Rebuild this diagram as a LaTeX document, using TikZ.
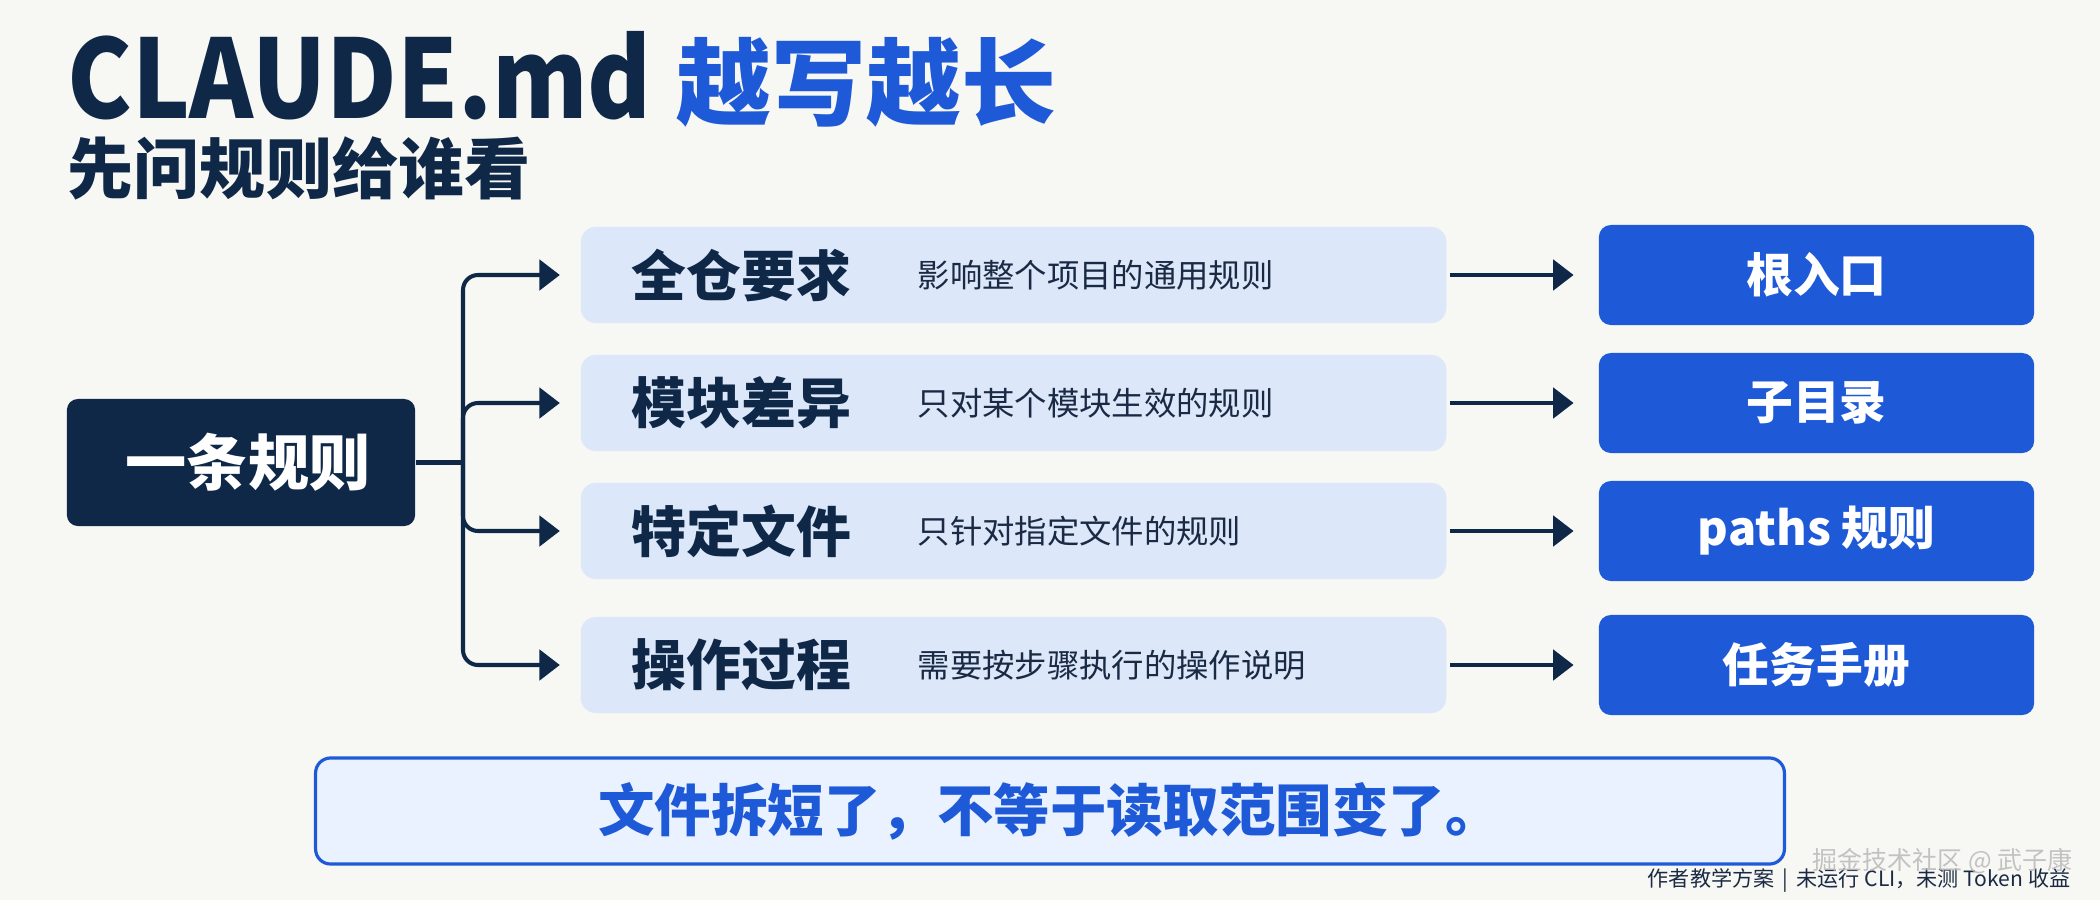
\documentclass[tikz,border=0pt]{standalone}
\usepackage{fontspec}
\setmainfont{Noto Sans CJK SC}
\usetikzlibrary{arrows.meta}
\definecolor{navy}{HTML}{0F2848}
\definecolor{brandblue}{HTML}{1E5AD7}
\definecolor{lightbox}{HTML}{DCE8F9}
\definecolor{notebox}{HTML}{E9F2FE}
\definecolor{bgcol}{HTML}{F7F7F4}
\definecolor{desccol}{HTML}{1B2A44}
\newcommand{\fs}[1]{\fontsize{#1}{#1}\selectfont}
\tikzset{
  rowbox/.style={fill=lightbox, rounded corners=0.15cm, minimum width=8.65cm, minimum height=0.96cm, inner sep=0pt},
  targetbox/.style={fill=brandblue, rounded corners=0.12cm, minimum width=4.35cm, minimum height=1.0cm, inner sep=0pt, text=white, font=\fs{13.3pt}\bfseries},
  rowlabel/.style={anchor=west, inner sep=0pt, text=navy, font=\fs{15.6pt}\bfseries},
  rowdesc/.style={anchor=west, inner sep=0pt, text=desccol, font=\fs{9.2pt}},
  link/.style={draw=navy, line width=1.15pt, -{Triangle[length=5.8pt,width=8.6pt]}},
}
\begin{document}
\begin{tikzpicture}[x=0.01cm, y=-0.01cm]
\fill[bgcol] (0,0) rectangle (2100,900);
\useasboundingbox (0,0) rectangle (2100,900);

% title
\node[anchor=base west, inner sep=0pt] (title) at (67,118)
  {\bfseries\color{navy}\fs{31pt}\scalebox{0.89}[1]{CLAUDE.md} \color{brandblue}\fs{27pt}越写越长};
\node[anchor=base west, inner sep=0pt, text=navy] (subtitle) at (67,193)
  {\bfseries\fs{18.8pt}先问规则给谁看};

% source node
\node[fill=navy, rounded corners=0.11cm, minimum width=3.48cm, minimum height=1.27cm, inner sep=0pt,
      text=white, font=\fs{17.4pt}\bfseries] (rule) at (241,462.5) {\hspace*{0.14cm}一条规则};
\coordinate (hub) at (463,462.5);

% rows
\foreach \n/\y/\lab/\desc/\tgt in {
  1/275/全仓要求/影响整个项目的通用规则/根入口,
  2/403/模块差异/只对某个模块生效的规则/子目录,
  3/531/特定文件/只针对指定文件的规则/paths 规则,
  4/665/操作过程/需要按步骤执行的操作说明/任务手册}{
  \node[rowbox] (row\n) at (1013.5,\y) {};
  \node[rowlabel] (lab\n) at (631,\y) {\lab};
  \node[rowdesc] (desc\n) at (917,\y) {\desc};
  \node[targetbox] (tgt\n) at (1816.5,\y) {\tgt};
  \coordinate (from\n) at (1450,\y);
}

\draw[draw=navy, line width=1.15pt] (rule.east) -- (hub);
\foreach \n in {1,2,3,4}{
  \draw[link, rounded corners=0.15cm, shorten >=5\pgflinewidth] (hub) |- (row\n.west);
  \draw[link, shorten >=7pt] (from\n) -- (tgt\n.west);
}

% note
\node[fill=notebox, draw=brandblue, line width=0.9pt, rounded corners=0.15cm,
      minimum width=14.68cm, minimum height=1.06cm, inner sep=0pt,
      text=brandblue, font=\fs{16.05pt}\bfseries] (note) at (1050,811) {文件拆短了，不等于读取范围变了。};

% footer
\node[anchor=base east, inner sep=0pt, text=desccol, font=\fs{6pt}] (footer) at (2071,886)
  {作者教学方案 \,|\, 未运行 CLI，未测 Token 收益};
\node[anchor=base east, inner sep=0pt, text=gray!55, opacity=0.85, font=\fs{7.1pt}] (mark) at (2073,869)
  {掘金技术社区 @ 武子康};
\end{tikzpicture}
\end{document}
